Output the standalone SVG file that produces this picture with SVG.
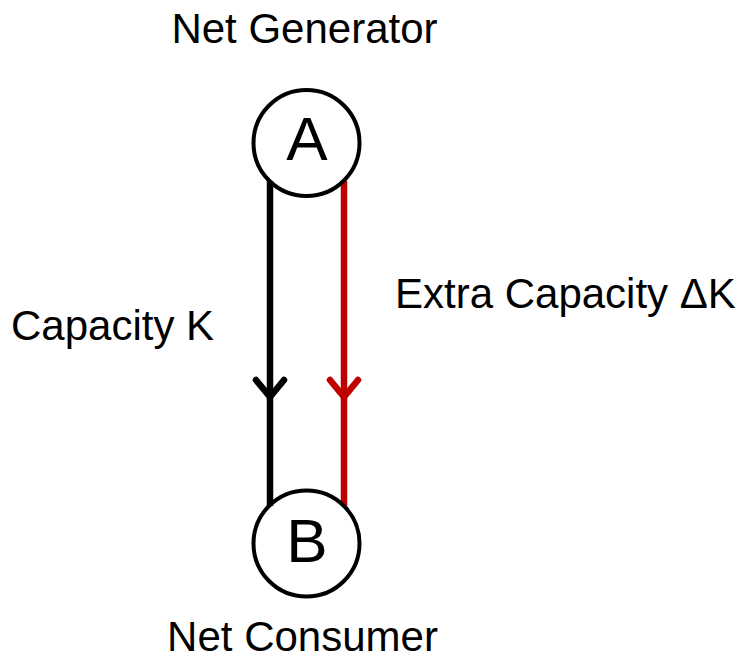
<svg xmlns="http://www.w3.org/2000/svg" width="742" height="657" viewBox="0 0 742 657">
<style>
text{font-family:"Liberation Sans",Arial,sans-serif;fill:#000}
.lbl{font-size:42px}
.nt{font-size:62px;text-anchor:middle}
.node{fill:none;stroke:#000;stroke-width:4}
.edge{fill:none;stroke-width:6.5;stroke-linecap:round;stroke-linejoin:round}
.blk{stroke:#000}
.red{stroke:#c00000}
</style>
<rect width="742" height="657" fill="#fff"/>
<g id="connectors">
<g id="edge-K">
<line class="edge blk" x1="270" y1="181" x2="270" y2="506" style="stroke-linecap:butt"/>
<polyline class="edge blk" points="256,380 270,397 284,380"/>
</g>
<g id="edge-dK">
<line class="edge red" x1="344" y1="181" x2="344" y2="506" style="stroke-linecap:butt"/>
<polyline class="edge red" points="330,380 344,397 358,380"/>
</g>
</g>
<g id="node-A">
<circle class="node" cx="306.5" cy="143" r="53"/>
<text class="nt" x="307" y="160">A</text>
</g>
<g id="node-B">
<circle class="node" cx="306.5" cy="543.5" r="53"/>
<text class="nt" x="307" y="562">B</text>
</g>
<g id="labels">
<text class="lbl" x="304.5" y="43" text-anchor="middle">Net Generator</text>
<text class="lbl" x="302.5" y="651" text-anchor="middle">Net Consumer</text>
<text class="lbl" x="11" y="340">Capacity K</text>
<text class="lbl" x="395" y="308">Extra Capacity ΔK</text>
</g>
</svg>
